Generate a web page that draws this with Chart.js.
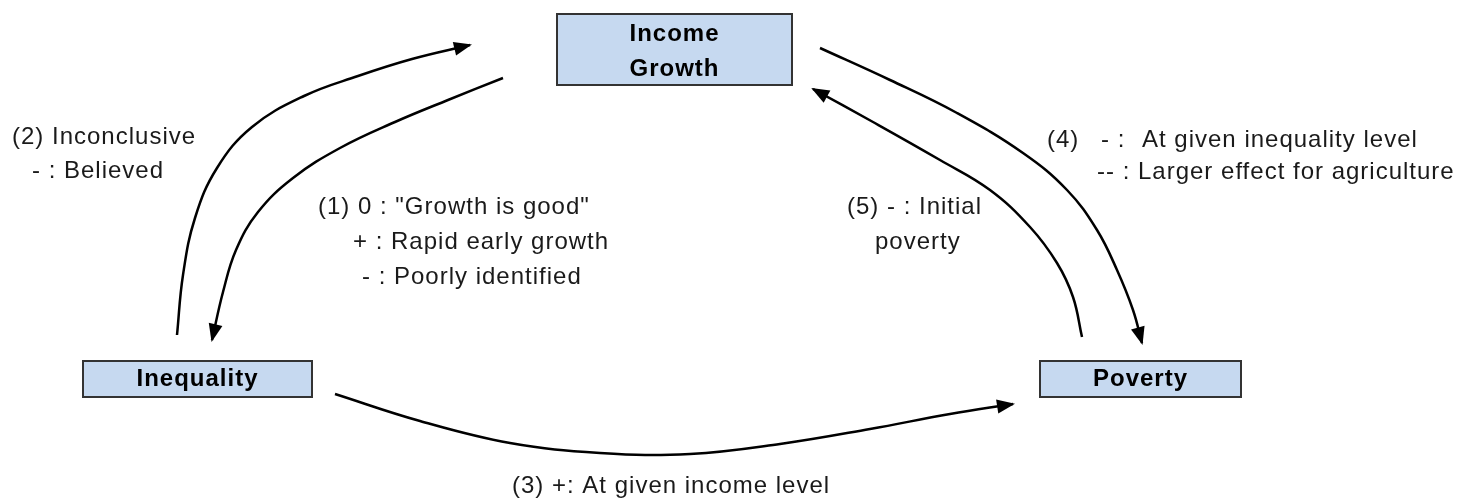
<!DOCTYPE html>
<html>
<head>
<meta charset="utf-8">
<title>Income growth, inequality and poverty</title>
<script src="https://cdn.jsdelivr.net/npm/chart.js@4.4.1/dist/chart.umd.min.js"></script>
<style>
    html, body { margin: 0; padding: 0; background: #fff; }
    #wrap { width: 1461px; height: 498px; }
</style>
</head>
<body>
<div id="wrap"><canvas id="diagram" width="1461" height="498"></canvas></div>
<script>
// Node labels (box text)
const nodeLabels = [['Income', 'Growth'], ['Inequality'], ['Poverty']];

// Links (pixel space of the 1461x498 figure)
// (2) Inequality -> Income Growth
const link2X = [177, 183, 195, 217, 252, 304, 358, 412, 470];
const link2Y = [335, 275, 218, 168, 127, 96, 76, 59, 45];
// (1) Income Growth -> Inequality
const link1X = [503, 448, 395, 340, 293, 258, 236, 223, 212];
const link1Y = [78, 100, 122, 148, 178, 212, 250, 292, 340];
// (4) Income Growth -> Poverty
const link4X = [820, 890, 957, 1023, 1067, 1097, 1117, 1133, 1142];
const link4Y = [48, 80, 113, 153, 190, 230, 270, 310, 343];
// (5) Poverty -> Income Growth
const link5X = [1082, 1073, 1057, 1030, 990, 940, 873, 813];
const link5Y = [337, 297, 263, 227, 190, 160, 122, 89];
// (3) Inequality -> Poverty
const link3X = [335, 420, 510, 600, 690, 780, 870, 950, 1013];
const link3Y = [394, 421, 443, 453, 454, 444, 429, 414, 404];

// Annotation texts
const note2 = ['(2) Inconclusive', '- : Believed'];
const note1 = ['(1) 0 : "Growth is good"', '+ : Rapid early growth', '- : Poorly identified'];
const note4 = ['(4)', '- :', 'At given inequality level', '-- : Larger effect for agriculture'];
const note5 = ['(5) - : Initial', 'poverty'];
const note3 = ['(3) +: At given income level'];

// Layout (positions only)
const boxes = [
    { x0: 557, y0: 14, x1: 792, y1: 85, lines: [34, 69] },
    { x0: 83, y0: 361, x1: 312, y1: 397, lines: [379] },
    { x0: 1040, y0: 361, x1: 1241, y1: 397, lines: [379] }
];
const notePlaces = [
    { text: note2, at: [[12, 137], [32, 171]] },
    { text: note1, at: [[318, 207], [353, 242], [362, 277]] },
    { text: note4, at: [[1047, 140], [1101, 140], [1142, 140], [1097, 172]] },
    { text: note5, at: [[847, 207], [875, 242]] },
    { text: note3, at: [[512, 486]] }
];

function toPoints(xs, ys) {
    return xs.map((x, i) => ({ x: x, y: ys[i] }));
}

const links = [
    toPoints(link2X, link2Y),
    toPoints(link1X, link1Y),
    toPoints(link4X, link4Y),
    toPoints(link5X, link5Y),
    toPoints(link3X, link3Y)
];

const diagramPlugin = {
    id: 'diagram',
    afterDatasetsDraw(chart) {
        const ctx = chart.ctx;
        const sx = chart.scales.x, sy = chart.scales.y;

        // arrow heads at the end of every link
        ctx.save();
        ctx.fillStyle = '#000';
        chart.data.datasets.forEach((ds, i) => {
            const pts = chart.getDatasetMeta(i).data;
            const tip = pts[pts.length - 1];
            let bx = tip.cp1x, by = tip.cp1y;
            if (bx === undefined || Math.hypot(tip.x - bx, tip.y - by) < 1) {
                bx = pts[pts.length - 2].x;
                by = pts[pts.length - 2].y;
            }
            const ang = Math.atan2(tip.y - by, tip.x - bx);
            ctx.save();
            ctx.translate(tip.x, tip.y);
            ctx.rotate(ang);
            ctx.beginPath();
            ctx.moveTo(2, 0);
            ctx.lineTo(-16, -7);
            ctx.lineTo(-16, 7);
            ctx.closePath();
            ctx.fill();
            ctx.restore();
        });
        ctx.restore();

        // boxes
        ctx.save();
        boxes.forEach((b, i) => {
            const x0 = sx.getPixelForValue(b.x0), x1 = sx.getPixelForValue(b.x1);
            const y0 = sy.getPixelForValue(b.y0), y1 = sy.getPixelForValue(b.y1);
            ctx.fillStyle = '#c6d9f0';
            ctx.fillRect(x0, y0, x1 - x0, y1 - y0);
            ctx.strokeStyle = '#333';
            ctx.lineWidth = 2;
            ctx.strokeRect(x0, y0, x1 - x0, y1 - y0);
            ctx.fillStyle = '#000';
            ctx.font = 'bold 24px "Liberation Sans", Arial, sans-serif';
            ctx.letterSpacing = '1px';
            ctx.textAlign = 'center';
            ctx.textBaseline = 'middle';
            nodeLabels[i].forEach((t, k) => {
                ctx.fillText(t, (x0 + x1) / 2, sy.getPixelForValue(b.lines[k]));
            });
        });
        ctx.restore();

        // notes
        ctx.save();
        ctx.fillStyle = '#1a1a1a';
        ctx.font = '24px "Liberation Sans", Arial, sans-serif';
        ctx.letterSpacing = '1px';
        ctx.textAlign = 'left';
        ctx.textBaseline = 'middle';
        notePlaces.forEach(n => {
            n.text.forEach((t, k) => {
                ctx.fillText(t, sx.getPixelForValue(n.at[k][0]), sy.getPixelForValue(n.at[k][1]));
            });
        });
        ctx.restore();
    }
};

const canvas = document.getElementById('diagram');
new Chart(canvas, {
    type: 'scatter',
    data: {
        datasets: links.map(pts => ({
            data: pts,
            showLine: true,
            borderColor: '#000',
            borderWidth: 2.5,
            pointRadius: 0,
            tension: 0.4,
            fill: false
        }))
    },
    options: {
        responsive: false,
        animation: false,
        devicePixelRatio: 1,
        events: [],
        layout: { padding: 0 },
        plugins: {
            legend: { display: false },
            tooltip: { enabled: false }
        },
        scales: {
            x: { type: 'linear', min: 0, max: 1461, display: false },
            y: { type: 'linear', min: 0, max: 498, reverse: true, display: false }
        }
    },
    plugins: [diagramPlugin]
});
</script>
</body>
</html>
